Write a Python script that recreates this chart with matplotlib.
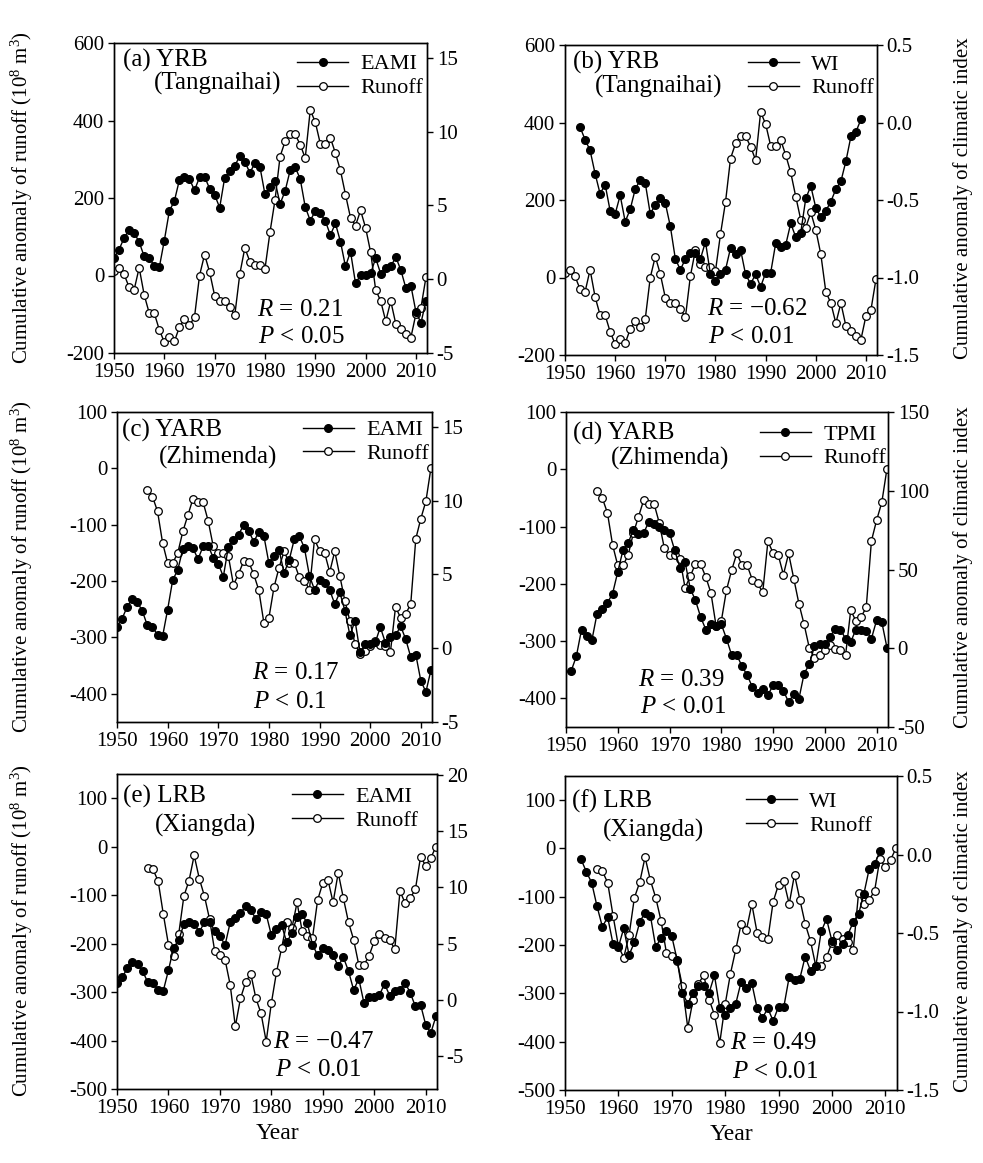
import matplotlib.pyplot as plt
import numpy as np

plt.rcParams['font.family'] = 'Liberation Serif'
plt.rcParams['mathtext.fontset'] = 'custom'
plt.rcParams['mathtext.rm'] = 'Liberation Serif'
plt.rcParams['mathtext.it'] = 'Liberation Serif:italic'
plt.rcParams['axes.unicode_minus'] = False

# cumulative anomaly series
years = np.arange(1950, 2013)
eami = [1.45, 2.0, 2.79, 3.35, 3.14, 2.52, 1.54, 1.45, 0.9, 0.8,
        2.62, 4.62, 5.3, 6.73, 6.94, 6.78, 6.03, 6.9, 6.94, 6.14,
        5.71, 4.85, 6.88, 7.32, 7.7, 8.32, 7.95, 7.22, 7.85, 7.61,
        5.75, 6.26, 6.64, 5.1, 5.97, 7.37, 7.59, 6.8, 4.9, 3.97,
        4.61, 4.45, 3.94, 2.99, 3.78, 2.55, 0.86, 1.87, -0.29, 0.28,
        0.27, 0.4, 1.42, 0.37, 0.78, 0.86, 1.5, 0.62, -0.6, -0.43,
        -2.22, -2.96, -1.47]

wi_years = np.arange(1953, 2010)
wi = [-0.03, -0.11, -0.18, -0.33, -0.46, -0.40, -0.57,
      -0.59, -0.47, -0.64, -0.56, -0.43, -0.37, -0.39, -0.59, -0.53, -0.49,
      -0.52, -0.67, -0.88, -0.95, -0.88, -0.84, -0.84, -0.88, -0.77, -0.98,
      -1.02, -0.98, -0.95, -0.81, -0.85, -0.82, -0.98, -1.04, -0.98, -1.06,
      -0.97, -0.97, -0.78, -0.80, -0.79, -0.65, -0.74, -0.71, -0.49, -0.41,
      -0.55, -0.61, -0.57, -0.51, -0.43, -0.38, -0.25, -0.09, -0.06, 0.02]

tpmi_years = np.arange(1951, 2013)
tpmi = [-14.4, -5.1, 11.9, 7.6, 5.1, 22, 25.2, 28.8, 34.7,
        48.5, 62.2, 66.9, 74.9, 72.4, 73.2, 80.2, 79.2, 77, 74.9,
        73.2, 62.2, 51.2, 54.8, 37.9, 30.5, 19.9, 11.9, 15.2, 14,
        15.2, 6.1, -4.4, -4.4, -11.4, -17.1, -24.6, -28.4, -25.6, -29.8,
        -23.5, -23.5, -27.1, -34.1, -29.2, -32, -16.1, -10.2, 1.3, 2.5,
        2.5, 7.2, 12.5, 11.9, 6.1, 4, 11.9, 11.9, 11, 6.1,
        17.8, 16.7, 0.4]

runoff_yrb = [11, 20, 3, -30, -37, 20, -50, -97, -97, -140,
              -172, -158, -170, -133, -112, -129, -107, 0, 54, 9,
              -52, -65, -66, -80, -103, 4, 71, 36, 28, 28,
              17, 112, 195, 307, 346, 364, 364, 338, 303, 427,
              396, 340, 340, 355, 316, 271, 209, 149, 129, 168,
              123, 60, -37, -66, -118, -66, -125, -138, -152, -160,
              -99, -83, -4]

run_years = np.arange(1956, 2013)
runoff_yarb = [-38, -50, -76, -132, -168, -168, -150, -112, -83, -54,
               -60, -60, -93, -138, -150, -150, -156, -207, -187, -165,
               -166, -188, -216, -274, -265, -211, -176, -147, -168, -168,
               -193, -199, -215, -126, -146, -150, -184, -147, -191, -235,
               -271, -312, -329, -324, -315, -306, -313, -316, -325, -246,
               -265, -258, -241, -125, -89, -58, 1]
runoff_lrb = [-43, -47, -71, -139, -202, -226, -180, -102, -70, -18,
              -66, -102, -150, -216, -223, -233, -285, -371, -313, -280,
              -262, -313, -344, -402, -323, -259, -209, -156, -168, -115,
              -175, -184, -188, -110, -75, -68, -115, -54, -106, -156,
              -192, -244, -244, -225, -195, -180, -188, -193, -211, -92,
              -116, -106, -88, -21, -39, -23, 0]

W, H = 983, 1163


def rect(x0, y0, x1, y1):
    return [x0 / W, 1 - y1 / H, (x1 - x0) / W, (y1 - y0) / H]


panels = [
    dict(box=(114, 43, 427, 353), ix=years, iy=eami, name='EAMI',
         rx=years, ry=runoff_yrb, ylim=(-200, 600), yt=range(-200, 601, 200),
         rlim=(-5, 16), rt=range(-5, 16, 5), rfmt='{:.0f}',
         t1=('(a) YRB', 0.028, 0.945), t2=('(Tangnaihai)', 0.126, 0.868),
         r='0.21', p='0.05', rp=(0.456, 0.139, 0.052), leg=(0.585, 0.965)),
    dict(box=(565, 45, 877, 355), ix=wi_years, iy=wi, name='WI',
         rx=years, ry=runoff_yrb, ylim=(-200, 600), yt=range(-200, 601, 200),
         rlim=(-1.5, 0.5), rt=np.arange(-1.5, 0.51, 0.5), rfmt='{:.1f}',
         t1=('(b) YRB', 0.027, 0.945), t2=('(Tangnaihai)', 0.096, 0.865),
         r='\u22120.62', p='0.01', rp=(0.454, 0.148, 0.058), leg=(0.586, 0.971)),
    dict(box=(117, 412, 432, 722), ix=years, iy=eami, name='EAMI',
         rx=run_years, ry=runoff_yarb, ylim=(-450, 100), yt=range(-400, 101, 100),
         rlim=(-5, 16), rt=range(-5, 16, 5), rfmt='{:.0f}',
         t1=('(c) YARB', 0.015, 0.942), t2=('(Zhimenda)', 0.134, 0.852),
         r='0.17', p='0.1', rp=(0.428, 0.158, 0.066), leg=(0.59, 0.975)),
    dict(box=(566, 412, 888, 727), ix=tpmi_years, iy=tpmi, name='TPMI',
         rx=run_years, ry=runoff_yarb, ylim=(-450, 100), yt=range(-400, 101, 100),
         rlim=(-50, 150), rt=range(-50, 151, 50), rfmt='{:.0f}',
         t1=('(d) YARB', 0.022, 0.933), t2=('(Zhimenda)', 0.14, 0.851),
         r='0.39', p='0.01', rp=(0.224, 0.149, 0.065), leg=(0.602, 0.962)),
    dict(box=(117, 774, 437, 1089), ix=years, iy=eami, name='EAMI',
         rx=run_years, ry=runoff_lrb, ylim=(-500, 150), yt=range(-500, 101, 100),
         rlim=(-7.95, 20.1), rt=range(-5, 21, 5), rfmt='{:.0f}',
         t1=('(e) LRB', 0.019, 0.928), t2=('(Xiangda)', 0.119, 0.838),
         r='\u22120.47', p='0.01', rp=(0.489, 0.15, 0.06), leg=(0.546, 0.961)),
    dict(box=(565, 776, 897, 1090), ix=wi_years, iy=wi, name='WI',
         rx=run_years, ry=runoff_lrb, ylim=(-500, 150), yt=range(-500, 101, 100),
         rlim=(-1.5, 0.5), rt=np.arange(-1.5, 0.51, 0.5), rfmt='{:.1f}',
         t1=('(f) LRB', 0.02, 0.918), t2=('(Xiangda)', 0.115, 0.827),
         r='0.49', p='0.01', rp=(0.497, 0.15, 0.057), leg=(0.545, 0.952)),
]

fig = plt.figure(figsize=(W / 100, H / 100), dpi=100)

for i, pn in enumerate(panels):
    ax = fig.add_axes(rect(*pn['box']))
    ax2 = ax.twinx()

    l_run, = ax.plot(pn['rx'], pn['ry'], color='black', lw=1.0, marker='o',
                     ms=5.5, mfc='white', mec='black', mew=0.9, label='Runoff')
    l_idx, = ax2.plot(pn['ix'], pn['iy'], color='black', lw=1.0, marker='o',
                      ms=5.5, mfc='black', mec='black', label=pn['name'])

    ax.set_xlim(1950, 2012.2)
    ax.set_xticks(range(1950, 2011, 10))
    ax.set_ylim(*pn['ylim'])
    ax.set_yticks(list(pn['yt']))
    ax2.set_ylim(*pn['rlim'])
    ax2.set_yticks(list(pn['rt']))
    ax2.set_yticklabels([pn['rfmt'].format(v).replace('\u2212', '-') for v in pn['rt']])

    for a in (ax, ax2):
        a.tick_params(direction='out', length=4, width=1, labelsize=15, pad=3)
        for s in a.spines.values():
            s.set_linewidth(1.0)

    ax2.text(pn['t1'][1], pn['t1'][2], pn['t1'][0], transform=ax.transAxes,
             fontsize=18, ha='left', va='center')
    ax2.text(pn['t2'][1], pn['t2'][2], pn['t2'][0], transform=ax.transAxes,
             fontsize=18, ha='left', va='center')
    rx_, ry_, py_ = pn['rp']
    ax2.text(rx_, ry_, '$R$ = ' + pn['r'], transform=ax.transAxes,
             fontsize=18, ha='left', va='center')
    ax2.text(rx_ + 0.005, py_, '$P$ < ' + pn['p'], transform=ax.transAxes,
             fontsize=18, ha='left', va='center')

    ax2.legend([l_idx, l_run], [pn['name'], 'Runoff'], loc='upper left',
               bbox_to_anchor=pn['leg'], frameon=False, fontsize=16,
               borderpad=0, borderaxespad=0, handlelength=2.3,
               handletextpad=0.55, labelspacing=0.15)

    if i >= 4:
        ax.set_xlabel('Year', fontsize=17, labelpad=4)

# row labels on both sides
for yc in (198, 567, 931):
    fig.text(22 / W, 1 - yc / H, 'Cumulative anomaly of runoff (10$^8$ m$^3$)',
             rotation=90, ha='center', va='center', fontsize=15)
    fig.text(963 / W, 1 - yc / H, 'Cumulative anomaly of climatic index',
             rotation=90, ha='center', va='center', fontsize=15)

fig.savefig('out.png', dpi=100)
